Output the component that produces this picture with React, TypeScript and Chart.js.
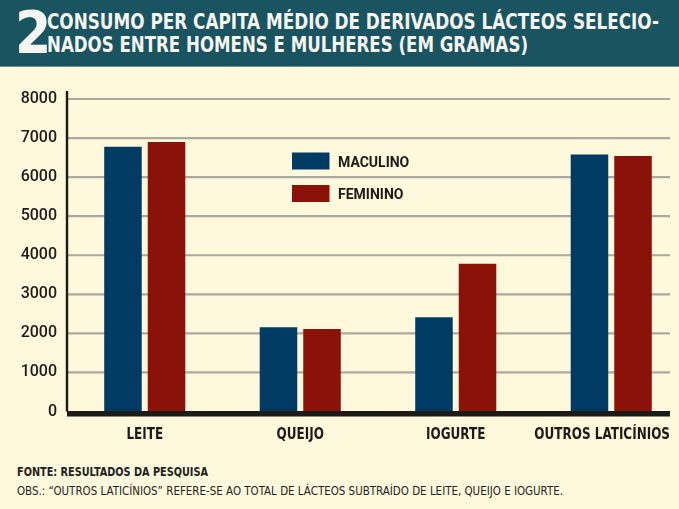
import React, { useEffect, useLayoutEffect, useRef } from "react";
import { Chart, registerables } from "chart.js";

Chart.register(...registerables);

const categories = ["LEITE", "QUEIJO", "IOGURTE", "OUTROS LATICÍNIOS"];
const masculino = [6780, 2160, 2410, 6580];
const feminino = [6900, 2110, 3780, 6540];
const seriesLabels = ["MACULINO", "FEMININO"];
const yTicks = [0, 1000, 2000, 3000, 4000, 5000, 6000, 7000, 8000];

const BLUE = "#003b63";
const RED = "#8a1209";
const CREAM = "#fef9dc";
const INK = "#1c1b18";
const NARROW = '"DejaVu Sans Condensed", "DejaVu Sans", sans-serif';

const CANVAS_TOP = 70;
const PLOT_RIGHT = 670;

// squeeze a line of text to a given width (the print font is much narrower)
function FitText({ width, children, style }: { width: number; children: React.ReactNode; style?: React.CSSProperties }) {
  const ref = useRef<HTMLSpanElement>(null);
  useLayoutEffect(() => {
    const el = ref.current;
    if (!el) return;
    el.style.transform = "none";
    const w = el.getBoundingClientRect().width;
    if (w > 0) el.style.transform = `scaleX(${width / w})`;
  }, [width]);
  return (
    <div style={{ height: style?.lineHeight, whiteSpace: "nowrap" }}>
      <span ref={ref} style={{ display: "inline-block", transformOrigin: "left center", ...style }}>
        {children}
      </span>
    </div>
  );
}

// gridlines, axes, category labels and legend, drawn like the original print graphic
const decorPlugin = {
  id: "decor",
  beforeDatasetsDraw(chart: any) {
    const { ctx, chartArea, scales } = chart;
    const y = scales.y;
    ctx.save();
    ctx.strokeStyle = "#aba89e";
    ctx.lineWidth = 2.2;
    yTicks.forEach((v) => {
      if (v === 0) return;
      const py = y.getPixelForValue(v);
      ctx.beginPath();
      ctx.moveTo(chartArea.left, py);
      ctx.lineTo(PLOT_RIGHT, py);
      ctx.stroke();
    });
    ctx.restore();
  },
  afterDatasetsDraw(chart: any) {
    const { ctx, chartArea, scales } = chart;
    const zero = scales.y.getPixelForValue(0);
    ctx.save();
    ctx.fillStyle = INK;
    ctx.fillRect(chartArea.left, zero - 0.5, PLOT_RIGHT - chartArea.left, 5.5);
    ctx.fillRect(chartArea.left - 1.2, chartArea.top - 8, 2.4, zero - chartArea.top + 8);

    // category labels
    const squeeze = 0.89;
    ctx.font = `bold 15px ${NARROW}`;
    ctx.textBaseline = "middle";
    ctx.textAlign = "left";
    chart.data.labels.forEach((lab: string, i: number) => {
      const cx = scales.x.getPixelForValue(i);
      const w = ctx.measureText(lab).width * squeeze;
      let left = cx - w / 2;
      if (left + w > PLOT_RIGHT) left = PLOT_RIGHT - w;
      ctx.save();
      ctx.translate(left, 435 - CANVAS_TOP);
      ctx.scale(squeeze, 1);
      ctx.fillText(lab, 0, 0);
      ctx.restore();
    });

    // legend
    const lx = 292;
    const ly = [152.5 - CANVAS_TOP, 185 - CANVAS_TOP];
    chart.data.datasets.forEach((ds: any, i: number) => {
      ctx.fillStyle = ds.backgroundColor;
      ctx.fillRect(lx, ly[i], 37.5, 17);
      ctx.fillStyle = INK;
      ctx.font = 'bold 14px "Roboto", sans-serif';
      ctx.textBaseline = "middle";
      ctx.textAlign = "left";
      ctx.fillText(ds.label, 338, ly[i] + 10.5);
    });
    ctx.restore();
  },
};

function DairyChart() {
  const canvasRef = useRef<HTMLCanvasElement>(null);
  const chartRef = useRef<Chart | null>(null);

  useEffect(() => {
    const ctx = canvasRef.current?.getContext("2d");
    if (!ctx) return;
    if (chartRef.current) chartRef.current.destroy();

    chartRef.current = new Chart(ctx, {
      type: "bar",
      data: {
        labels: categories,
        datasets: [
          {
            label: seriesLabels[0],
            data: masculino,
            backgroundColor: BLUE,
            categoryPercentage: 0.56,
            barPercentage: 0.862,
          },
          {
            label: seriesLabels[1],
            data: feminino,
            backgroundColor: RED,
            categoryPercentage: 0.56,
            barPercentage: 0.862,
          },
        ],
      },
      options: {
        animation: false,
        responsive: false,
        maintainAspectRatio: false,
        layout: { padding: { top: 29, right: 11, left: 0, bottom: 0 } },
        plugins: {
          legend: { display: false },
          tooltip: { enabled: false },
        },
        scales: {
          x: {
            grid: { display: false, drawTicks: false },
            border: { display: false },
            ticks: { display: false },
            afterFit: (scale: any) => {
              scale.height = 48.5;
            },
          },
          y: {
            min: 0,
            max: 8000,
            grid: { display: false, drawTicks: false },
            border: { display: false },
            afterBuildTicks: (scale: any) => {
              scale.ticks = yTicks.map((v) => ({ value: v }));
            },
            ticks: {
              color: INK,
              padding: 10,
              font: { family: "Roboto", size: 16, weight: 500 },
              callback: (v: any) => String(v),
            },
            afterFit: (scale: any) => {
              scale.width = 67;
            },
          },
        },
      },
      plugins: [decorPlugin],
    });

    return () => {
      if (chartRef.current) {
        chartRef.current.destroy();
        chartRef.current = null;
      }
    };
  }, []);

  return (
    <canvas
      ref={canvasRef}
      width={700}
      height={390}
      style={{ position: "absolute", left: 0, top: CANVAS_TOP, width: 700, height: 390 }}
    />
  );
}

export default function App() {
  return (
    <div
      style={{
        position: "fixed",
        left: 0,
        top: 0,
        width: 679,
        height: 509,
        overflow: "hidden",
        background: CREAM,
        fontFamily: NARROW,
      }}
    >
      <div
        style={{
          position: "absolute",
          left: 0,
          top: 0,
          width: 679,
          height: 66,
          background: "#1b5461",
          borderBottom: "1px solid #6d9293",
          color: "#f5f5f2",
        }}
      >
        <div
          style={{
            position: "absolute",
            left: 15,
            top: 2,
            fontSize: 58,
            fontWeight: "bold",
            lineHeight: "62px",
          }}
        >
          2
        </div>
        <div style={{ position: "absolute", left: 47, top: 10 }}>
          <FitText width={612} style={{ fontSize: 22, fontWeight: "bold", lineHeight: "23px" }}>
            CONSUMO PER CAPITA MÉDIO DE DERIVADOS LÁCTEOS SELECIO-
          </FitText>
          <FitText width={481} style={{ fontSize: 22, fontWeight: "bold", lineHeight: "23px" }}>
            NADOS ENTRE HOMENS E MULHERES (EM GRAMAS)
          </FitText>
        </div>
      </div>
      <DairyChart />
      <div style={{ position: "absolute", left: 17, top: 461, color: "#222" }}>
        <FitText width={191} style={{ fontSize: 12.5, lineHeight: "19px", fontWeight: 600 }}>
          FONTE: RESULTADOS DA PESQUISA
        </FitText>
        <FitText width={546} style={{ fontSize: 12.5, lineHeight: "19px" }}>
          OBS.: “OUTROS LATICÍNIOS” REFERE-SE AO TOTAL DE LÁCTEOS SUBTRAÍDO DE LEITE, QUEIJO E IOGURTE.
        </FitText>
      </div>
    </div>
  );
}
